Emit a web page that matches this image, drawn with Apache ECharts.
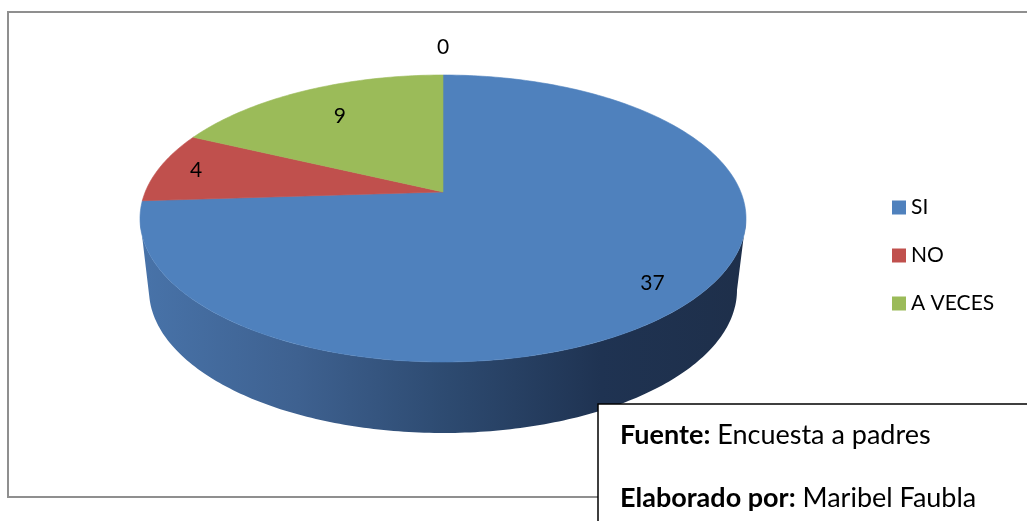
<!DOCTYPE html>
<html>
<head>
<meta charset="utf-8">
<script src="https://cdn.jsdelivr.net/npm/echarts@6/dist/echarts.min.js"></script>
<style>
  html, body { margin: 0; padding: 0; background: #fff; }
  #main { width: 1027px; height: 521px; }
</style>
</head>
<body>
<div id="main"></div>
<script>
// datos de la encuesta
var categories = ['SI', 'NO', 'A VECES', ''];
var values = [37, 4, 9, 0];
var legendNames = ['SI', 'NO', 'A VECES'];

var colors = ['#4f81bd', '#c0504d', '#9bbb59', '#8064a2'];
var labelR = [0.86, 0.87, 0.72, 1.29];
var FONT = 'Lato';

// geometria del pastel 3D (cara superior con perspectiva)
var CX = 443, CY = 218.5, RX = 303, RY = 143.5, PERSP = -0.185;
var BCY = 290, BRX = 294, BRY = 143;
var EDGE = Math.acos(PERSP) * 180 / Math.PI;

var total = 0;
for (var k = 0; k < values.length; k++) total += values[k];

function topPt(deg, r) {
    var t = deg * Math.PI / 180;
    var u = r * Math.sin(t), v = -r * Math.cos(t);
    var d = 1 + PERSP * v;
    var X = Math.sqrt(1 - PERSP * PERSP) * u / d;
    var Y = (v + PERSP) / d;
    return [CX + RX * X, CY + RY * Y];
}
function botPt(deg) {
    var t = deg * Math.PI / 180;
    return [CX + BRX * Math.sin(t), BCY - BRY * Math.cos(t)];
}
function arc(fn, a, b, out) {
    var n = Math.max(2, Math.ceil(Math.abs(b - a)));
    for (var i = 0; i <= n; i++) out.push(fn(a + (b - a) * i / n, 1));
    return out;
}

var sideFill = new echarts.graphic.LinearGradient(140, 0, 746, 0, [
    {offset: 0, color: '#4873a9'},
    {offset: 0.26, color: '#3e6190'},
    {offset: 0.51, color: '#2d4a70'},
    {offset: 0.76, color: '#1f3352'},
    {offset: 1, color: '#1e2f4a'}
], true);

function renderSlice(params, api) {
    var i = params.seriesIndex;
    var start = 0;
    for (var j = 0; j < i; j++) start += values[j];
    var val = api.value(0);
    var a0 = start / total * 360, a1 = (start + val) / total * 360;
    var children = [];

    // lateral
    var t0 = Math.max(a0, EDGE), t1 = Math.min(a1, 360 - EDGE);
    if (t1 > t0) {
        var pts = arc(topPt, t0, t1, []);
        arc(botPt, Math.min(a1, 270), Math.max(a0, 90), pts);
        children.push({type: 'polygon', shape: {points: pts}, style: {fill: sideFill}, z2: 1});
    }
    // cara superior
    if (a1 > a0) {
        var face = [topPt(0, 0)];
        arc(topPt, a0, a1, face);
        children.push({
            type: 'polygon', shape: {points: face},
            style: {fill: colors[i], stroke: colors[i], lineWidth: 0.6}, z2: 2
        });
    }
    // etiqueta
    var p = topPt((a0 + a1) / 2, labelR[i]);
    children.push({
        type: 'text', x: p[0], y: p[1], z2: 3,
        style: {text: String(val), align: 'center', verticalAlign: 'middle',
            fontFamily: FONT, fontSize: 21, fill: '#000'}
    });
    return {type: 'group', children: children};
}

var option = {
    animation: false,
    legend: {
        data: legendNames,
        orient: 'vertical',
        left: 887,
        top: 192,
        icon: 'rect',
        itemWidth: 14,
        itemHeight: 14,
        itemGap: 27,
        textStyle: {fontFamily: FONT, fontSize: 21, color: '#000', lineHeight: 21}
    },
    graphic: [
        {
            type: 'rect', z: -10, silent: true,
            shape: {x: 8, y: 12, width: 1040, height: 485},
            style: {fill: '#fff', stroke: '#8f8f8f', lineWidth: 2}
        },
        {
            type: 'rect', z: 100, silent: true,
            shape: {x: 598, y: 404, width: 460, height: 140},
            style: {fill: '#fff', stroke: '#000', lineWidth: 1.5}
        },
        {
            type: 'text', z: 101, left: 620, top: 422, silent: true,
            style: {
                text: '{b|Fuente:} Encuesta a padres',
                fontFamily: FONT, fontSize: 27, fill: '#000',
                rich: {b: {fontFamily: FONT, fontSize: 27, fontWeight: 'bold', fill: '#000'}}
            }
        },
        {
            type: 'text', z: 101, left: 620, top: 485, silent: true,
            style: {
                text: '{b|Elaborado por:} Maribel Faubla',
                fontFamily: FONT, fontSize: 27, fill: '#000',
                rich: {b: {fontFamily: FONT, fontSize: 27, fontWeight: 'bold', fill: '#000'}}
            }
        }
    ],
    series: categories.map(function (name, i) {
        return {
            type: 'custom',
            name: name,
            coordinateSystem: 'none',
            silent: true,
            itemStyle: {color: colors[i]},
            renderItem: renderSlice,
            data: [[values[i]]]
        };
    })
};

var chart = echarts.init(document.getElementById('main'));
chart.setOption(option);
</script>
</body>
</html>
